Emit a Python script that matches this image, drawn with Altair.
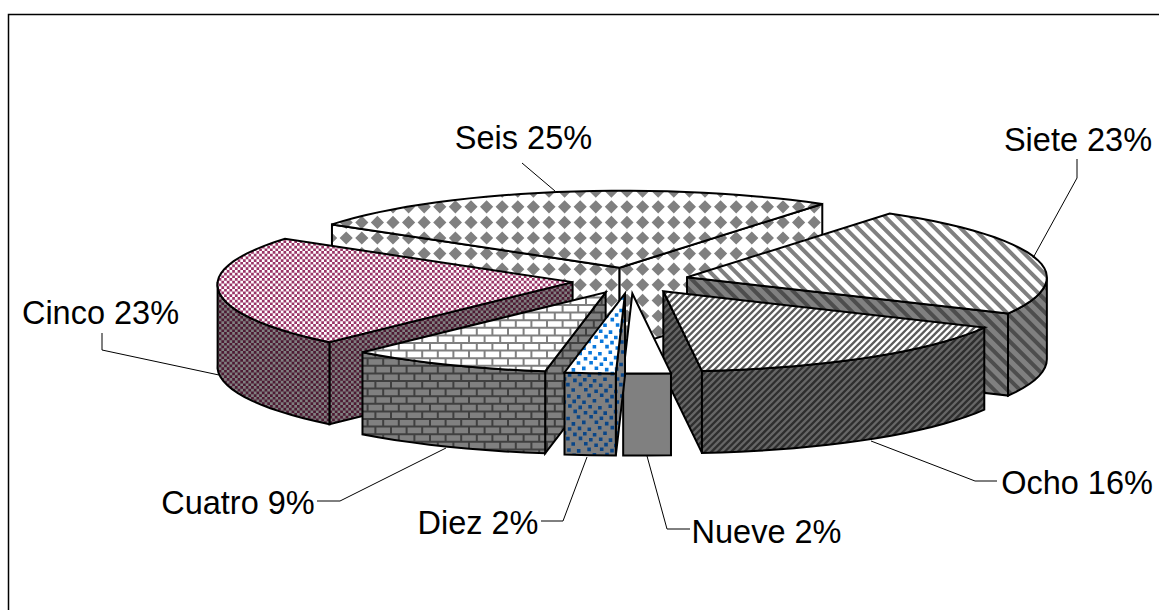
import math
import altair as alt

# Shares of each category, clockwise from the first slice
names = ["Diez", "Cuatro", "Cinco", "Seis", "Siete", "Ocho", "Nueve"]
shares = [2, 9, 23, 25, 23, 16, 2]

# Label anchors and leader paths, in chart units
label_x = {"Seis": 523.5, "Siete": 1078, "Ocho": 1077, "Nueve": 766.5, "Diez": 478, "Cuatro": 238, "Cinco": 100.5}
label_y = {"Seis": 139, "Siete": 141, "Ocho": 484, "Nueve": 533, "Diez": 524, "Cuatro": 504, "Cinco": 314}
leaders = {
    "Seis": [(522, 163), (555, 191)],
    "Siete": [(1077, 159), (1077, 178), (1033, 258)],
    "Ocho": [(997, 481), (975, 481), (871, 441)],
    "Nueve": [(690, 529), (667, 529), (647, 456)],
    "Diez": [(541, 521), (563, 521), (587, 457)],
    "Cuatro": [(317, 501), (340, 501), (446, 448)],
    "Cinco": [(102, 333), (102, 350), (219, 375)],
}
frame = [(8.5, 610), (8.5, 14.5), (1159, 14.5)]

# Pie geometry
START_ANGLE = 181.8
CX, CY = 630.5, 280.5
RX = 358.0
RY_BACK, RY_FRONT = 77.0, 80.0
EXPLODE = 0.163
DEPTH = 82.0

# Sideways perspective shift of the rim: (angle, shift)
rim_shift = [(0, 3), (34, 1.5), (117, 2), (172, 6), (182, 2), (189, -4.5),
             (221, -6.5), (270, 3), (304, 8.5), (360, 3)]

# Fill style per slice: pattern, top background/ink, side background/ink
styles = {
    "Seis": ("diamonds", "#ffffff", "#808080", "#ffffff", "#808080"),
    "Siete": ("wide_back", "#ffffff", "#808080", "#808080", "#4d4d4d"),
    "Ocho": ("thin_fwd", "#ffffff", "#5c5c5c", "#666666", "#2e2e2e"),
    "Nueve": ("plain", "#ffffff", "#ffffff", "#808080", "#808080"),
    "Diez": ("dots", "#ffffff", "#0a78dc", "#808080", "#0a4688"),
    "Cuatro": ("bricks", "#ffffff", "#808080", "#808080", "#404040"),
    "Cinco": ("checks", "#ffffff", "#993366", "#808080", "#4d1a33"),
}
paint_order = ["Seis", "Siete", "Cinco", "Ocho", "Cuatro", "Nueve", "Diez"]


def clip(subject, cell):
    """Clip a polygon against a convex cell (Sutherland-Hodgman)."""
    area = sum(cell[i][0] * cell[(i + 1) % len(cell)][1] - cell[(i + 1) % len(cell)][0] * cell[i][1]
               for i in range(len(cell)))
    sign = 1 if area > 0 else -1
    out = subject
    for i in range(len(cell)):
        ax, ay = cell[i]
        bx, by = cell[(i + 1) % len(cell)]
        side = lambda p: sign * ((bx - ax) * (p[1] - ay) - (by - ay) * (p[0] - ax))
        src, out = out, []
        for j in range(len(src)):
            p, q = src[j], src[(j + 1) % len(src)]
            sp, sq = side(p), side(q)
            if sp >= 0:
                out.append(p)
            if sp * sq < 0:
                t = sp / (sp - sq)
                out.append((p[0] + t * (q[0] - p[0]), p[1] + t * (q[1] - p[1])))
        if not out:
            return []
    return out


def pattern_cells(kind, box):
    x0, y0, x1, y1 = box
    cells = []
    if kind == "diamonds":
        p, h = 15.6, 6.6
        for i in range(int(x0 // p) - 1, int(x1 // p) + 2):
            for j in range(int(y0 // p) - 1, int(y1 // p) + 2):
                x, y = i * p + 3, j * p + 4
                cells.append([(x - h, y), (x, y - h), (x + h, y), (x, y + h)])
    elif kind == "checks":
        c = 2.7
        for i in range(int(x0 // c) - 1, int(x1 // c) + 2):
            for j in range(int(y0 // c) - 1, int(y1 // c) + 2):
                if (i + j) % 2 == 0:
                    x, y = i * c, j * c
                    cells.append([(x, y), (x + c, y), (x + c, y + c), (x, y + c)])
    elif kind == "bricks":
        rh, bw, m = 7.6, 15.6, 2.0
        for j in range(int(y0 // rh) - 1, int(y1 // rh) + 2):
            y = j * rh
            cells.append([(x0 - 1, y), (x1 + 1, y), (x1 + 1, y + m), (x0 - 1, y + m)])
            off = bw / 2 if j % 2 else 0
            for i in range(int(x0 // bw) - 1, int(x1 // bw) + 2):
                x = i * bw + off
                cells.append([(x, y), (x + m, y), (x + m, y + rh), (x, y + rh)])
    elif kind == "dots":
        s = 3.6
        nudge = [(0.0, 0.0), (1.0, -0.8), (-0.8, 0.9), (0.7, 0.6), (-1.0, -0.6)]
        for j in range(int(y0 // 5.4) - 1, int(y1 // 5.4) + 2):
            for i in range(int(x0 // 10.6) - 1, int(x1 // 10.6) + 2):
                dx, dy = nudge[(i * 2 + j * 3) % 5]
                x = i * 10.6 + (5.3 if j % 2 else 0) + dx
                y = j * 5.4 + dy
                cells.append([(x, y), (x + s, y), (x + s, y + s), (x, y + s)])
    elif kind in ("wide_back", "thin_fwd"):
        period, w = (12.8, 5.6) if kind == "wide_back" else (6.6, 3.3)
        slope = 1 if kind == "wide_back" else -1
        lo = min(x0 - slope * y0, x0 - slope * y1)
        hi = max(x1 - slope * y0, x1 - slope * y1)
        for k in range(int(lo // period) - 1, int(hi // period) + 2):
            a = k * period
            cells.append([(a + slope * y0, y0), (a + w + slope * y0, y0),
                          (a + w + slope * y1, y1), (a + slope * y1, y1)])
    return cells


def ring(points):
    pts = [[round(x, 2), round(y, 2)] for x, y in points]
    return pts + [pts[0]]


features = []


def add(geometry, fill="transparent", stroke="transparent", width=0):
    features.append({"type": "Feature", "geometry": geometry, "fill": fill, "stroke": stroke, "width": width})


def add_face(poly, kind, bg, ink):
    add({"type": "Polygon", "coordinates": [ring(poly)]}, fill=bg)
    if kind != "plain":
        xs, ys = [p[0] for p in poly], [p[1] for p in poly]
        box = (min(xs), min(ys), max(xs), max(ys))
        pieces = []
        for cell in pattern_cells(kind, box):
            cxs, cys = [p[0] for p in cell], [p[1] for p in cell]
            if max(cxs) < box[0] or min(cxs) > box[2] or max(cys) < box[1] or min(cys) > box[3]:
                continue
            part = clip(poly, cell)
            if len(part) >= 3:
                pieces.append([ring(part)])
        if pieces:
            add({"type": "MultiPolygon", "coordinates": pieces}, fill=ink)
    add({"type": "Polygon", "coordinates": [ring(poly)]}, stroke="#000000", width=2)


# Angular extent of every slice
spans = {}
angle = START_ANGLE
for name, share in zip(names, shares):
    spans[name] = (angle, angle + share * 3.6)
    angle += share * 3.6


def shift_at(deg):
    deg %= 360
    for (d0, s0), (d1, s1) in zip(rim_shift, rim_shift[1:]):
        if d0 <= deg <= d1:
            return s0 + (s1 - s0) * (deg - d0) / (d1 - d0)
    return 0.0


def on_rim(apex, deg):
    r = math.radians(deg)
    c = math.cos(r)
    ry = RY_BACK if c > 0 else RY_FRONT
    return (apex[0] + RX * math.sin(r) + shift_at(deg), apex[1] - ry * c)


def down(p):
    return (p[0], p[1] + DEPTH)


for name in paint_order:
    a0, a1 = spans[name]
    mid = math.radians((a0 + a1) / 2)
    apex = (CX + EXPLODE * RX * math.sin(mid), CY - EXPLODE * RY_FRONT * math.cos(mid))
    kind, top_bg, top_ink, side_bg, side_ink = styles[name]

    steps = max(2, int((a1 - a0) / 3))
    rim = [on_rim(apex, a0 + (a1 - a0) * i / steps) for i in range(steps + 1)]

    # Cut faces that turn toward the viewer
    if math.sin(math.radians(a0)) < 0:
        add_face([apex, rim[0], down(rim[0]), down(apex)], kind, side_bg, side_ink)
    if math.sin(math.radians(a1)) > 0:
        add_face([apex, rim[-1], down(rim[-1]), down(apex)], kind, side_bg, side_ink)

    # Outer wall on the front half of the pie
    w0, w1 = None, None
    for k in range(-1, 2):
        lo, hi = max(a0, 90 + 360 * k), min(a1, 270 + 360 * k)
        if lo < hi:
            w0, w1 = lo, hi
    if w0 is not None:
        n = max(2, int((w1 - w0) / 3))
        arc = [on_rim(apex, w0 + (w1 - w0) * i / n) for i in range(n + 1)]
        add_face(arc + [down(p) for p in reversed(arc)], kind, side_bg, side_ink)

    # Top face
    add_face([apex] + rim, kind, top_bg, top_ink)

for path in leaders.values():
    add({"type": "LineString", "coordinates": [list(p) for p in path]}, stroke="#000000", width=1)
add({"type": "LineString", "coordinates": [list(p) for p in frame]}, stroke="#000000", width=1.5)

pie = alt.Chart(alt.Data(values=features)).mark_geoshape().encode(
    fill=alt.Fill("fill:N", scale=None),
    stroke=alt.Stroke("stroke:N", scale=None),
    strokeWidth=alt.StrokeWidth("width:Q", scale=None),
).project(type="identity", scale=1, translate=[0, 0])

labels = alt.Chart(alt.Data(values=[
    {"text": f"{n} {s}%", "x": label_x[n], "y": label_y[n]} for n, s in zip(names, shares)
])).mark_text(font="Liberation Sans", fontSize=32.5, color="#000000", align="center", baseline="middle").encode(
    x=alt.X("x:Q", scale=alt.Scale(domain=[0, 1159], nice=False, zero=False), axis=None),
    y=alt.Y("y:Q", scale=alt.Scale(domain=[0, 610], reverse=True, nice=False, zero=False), axis=None),
    text="text:N",
)

chart = alt.layer(pie, labels).properties(
    width=1159, height=610, padding=0, background="#ffffff",
    autosize=alt.AutoSizeParams(type="none"),
).configure_view(stroke=None)

chart.save("out.html", embed_options={"renderer": "svg", "actions": False})
